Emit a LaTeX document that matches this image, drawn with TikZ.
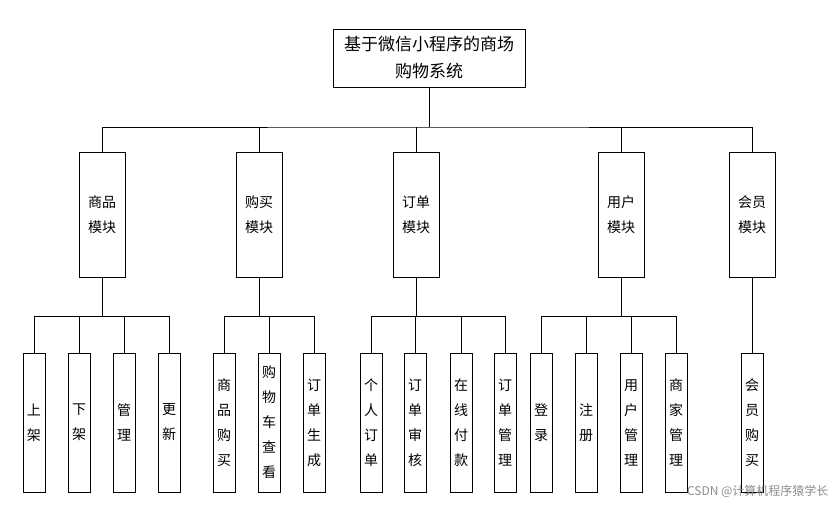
\documentclass[tikz,border=0pt]{standalone}
\usepackage{fontspec}
\newfontfamily\cjk{Noto Sans CJK SC}
\begin{document}
\begin{tikzpicture}[x=1pt,y=-1pt,
  box/.style={draw,thick,inner sep=0pt,font=\cjk\fontsize{14}{25}\selectfont,align=center},
  top/.style={box,minimum width=46pt,minimum height=125pt},
  leaf/.style={box,minimum width=22pt,minimum height=139pt},
  ln/.style={thick}]
\useasboundingbox (0,0) rectangle (838,505);
\node[box,minimum width=192pt,minimum height=58pt,font=\cjk\fontsize{17}{27}\selectfont] (root) at (429,58) {基于微信小程序的商场\\购物系统};
\foreach \n/\x/\t in {a/102/商品\\模块, b/259/购买\\模块, c/416/订单\\模块, d/621/用户\\模块, e/752/会员\\模块}
  \node[top] (\n) at (\x,214.5) {\t};
\coordinate (r1) at (429,127);
\draw[ln] (root.south) -- (r1);
\draw[ln] (a.north) |- (r1) -| (e.north);
\foreach \n in {b,c,d} \draw[ln] (\n.north) -- (\n.north |- r1);
\foreach \n/\x/\t in {a1/34/上\\架, a2/79/下\\架, a3/124/管\\理, a4/169/更\\新,
  b1/224/商\\品\\购\\买, b2/269/购\\物\\车\\查\\看, b3/314/订\\单\\生\\成,
  c1/371/个\\人\\订\\单, c2/415/订\\单\\审\\核, c3/461/在\\线\\付\\款, c4/505/订\\单\\管\\理,
  d1/541/登\\录, d2/586/注\\册, d3/631/用\\户\\管\\理, d4/676/商\\家\\管\\理,
  e1/752/会\\员\\购\\买}
  \node[leaf] (\n) at (\x,422.5) {\t};
\foreach \p/\f/\l/\m in {a/a1/a4/{a2,a3}, b/b1/b3/{b2}, c/c1/c4/{c2,c3}, d/d1/d4/{d2,d3}} {
  \coordinate (\p bus) at ([yshift=-39pt]\p.south);
  \draw[ln] (\p.south) -- (\p bus);
  \draw[ln] (\f.north) |- (\p bus) -| (\l.north);
  \foreach \k in \m \draw[ln] (\k.north) -- (\k.north |- \p bus);
}
\draw[ln] (e.south) -- (e1.north);
\node[font=\cjk\fontsize{12}{14}\selectfont,text=black!45,anchor=east] (wm) at (832,491) {CSDN @计算机程序猿学长};
\end{tikzpicture}
\end{document}
